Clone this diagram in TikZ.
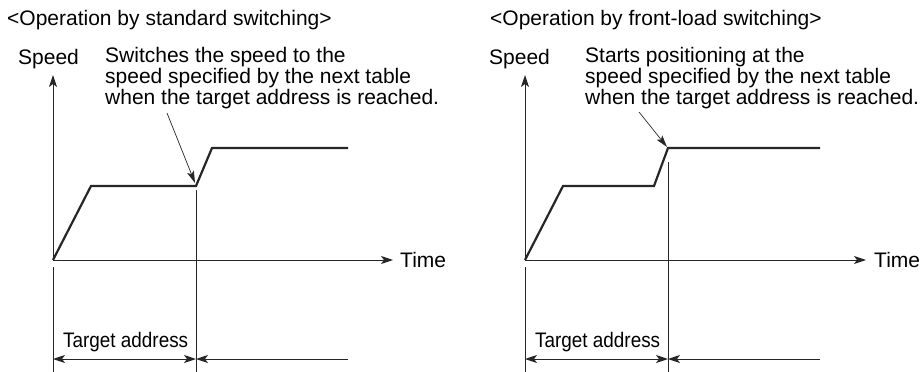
\documentclass[tikz,border=0pt]{standalone}
\usepackage{fontspec}
\setmainfont{Liberation Sans}
\usetikzlibrary{arrows.meta}
\tikzset{
  txt/.style={inner sep=0pt, anchor=base west, font=\fontsize{21}{21}\selectfont},
  multi/.style={txt, align=left},
  thin/.style={line width=1pt, black!85},
  curve/.style={line width=2.2pt, black!85, line join=miter},
  tip/.style={-{Stealth[length=12pt,width=8pt,inset=3pt]}},
  tips/.style={{Stealth[length=12pt,width=8pt,inset=3pt]}-{Stealth[length=12pt,width=8pt,inset=3pt]}},
  pointer/.style={line width=0.7pt, black!85, -{Stealth[length=12pt,width=7pt,inset=2.5pt]}}
}
\begin{document}
\begin{tikzpicture}[x=1pt,y=-1pt]
\useasboundingbox (0,0) rectangle (922,372);
% ---------- left diagram ----------
\node[txt] (title1) at (7,25) {<Operation by standard switching>};
\node[txt] (speed1) at (18,64) {Speed};
\node[multi] (note1) at (105,104) {Switches the speed to the\\speed specified by the next table\\when the target address is reached.};
\node[txt] (time1) at (400,267) {Time};
\node[txt, xscale=0.9] (tgt1) at (63,347) {Target address};
\coordinate (o1) at (53,260);
\coordinate (ytip1) at (53,75);
\coordinate (xtip1) at (393,260);
\coordinate (a1) at (91,186);
\coordinate (b1) at (196,186);
\coordinate (c1) at (212,148);
\coordinate (d1) at (348,148);
\coordinate (v1top) at (196,190);
\coordinate (v1bot) at (196,372);
\coordinate (l1top) at (53,267);
\coordinate (l1bot) at (53,372);
\coordinate (dimL1) at (53,359);
\coordinate (dimM1) at (196,359);
\coordinate (dimR1) at (348,359);
\coordinate (p1s) at (167,113);
\coordinate (p1e) at (195,183);
\draw[thin, tip] (o1) -- (ytip1);
\draw[thin, tip] (o1) -- (xtip1);
\draw[curve] (o1) -- (a1) -- (b1) -- (c1) -- (d1);
\draw[thin] (v1top) -- (v1bot);
\draw[thin] (l1top) -- (l1bot);
\draw[thin, tips] (dimL1) -- (dimM1);
\draw[thin, tip] (dimR1) -- (dimM1);
\draw[pointer] (p1s) -- (p1e);
% ---------- right diagram ----------
\node[txt] (title2) at (490,25) {<Operation by front-load switching>};
\node[txt] (speed2) at (489,64) {Speed};
\node[multi] (note2) at (585,104) {Starts positioning at the\\speed specified by the next table\\when the target address is reached.};
\node[txt] (time2) at (874,267) {Time};
\node[txt, xscale=0.9] (tgt2) at (535,347) {Target address};
\coordinate (o2) at (525,260);
\coordinate (ytip2) at (525,75);
\coordinate (xtip2) at (866,260);
\coordinate (a2) at (563,186);
\coordinate (b2) at (654,186);
\coordinate (c2) at (668,148);
\coordinate (d2) at (820,148);
\coordinate (v2top) at (668,162);
\coordinate (v2bot) at (668,372);
\coordinate (l2top) at (525,267);
\coordinate (l2bot) at (525,372);
\coordinate (dimL2) at (525,359);
\coordinate (dimM2) at (668,359);
\coordinate (dimR2) at (820,359);
\coordinate (p2s) at (639,112);
\coordinate (p2e) at (667,147);
\draw[thin, tip] (o2) -- (ytip2);
\draw[thin, tip] (o2) -- (xtip2);
\draw[curve] (o2) -- (a2) -- (b2) -- (c2) -- (d2);
\draw[thin] (v2top) -- (v2bot);
\draw[thin] (l2top) -- (l2bot);
\draw[thin, tips] (dimL2) -- (dimM2);
\draw[thin, tip] (dimR2) -- (dimM2);
\draw[pointer] (p2s) -- (p2e);
\end{tikzpicture}
\end{document}
